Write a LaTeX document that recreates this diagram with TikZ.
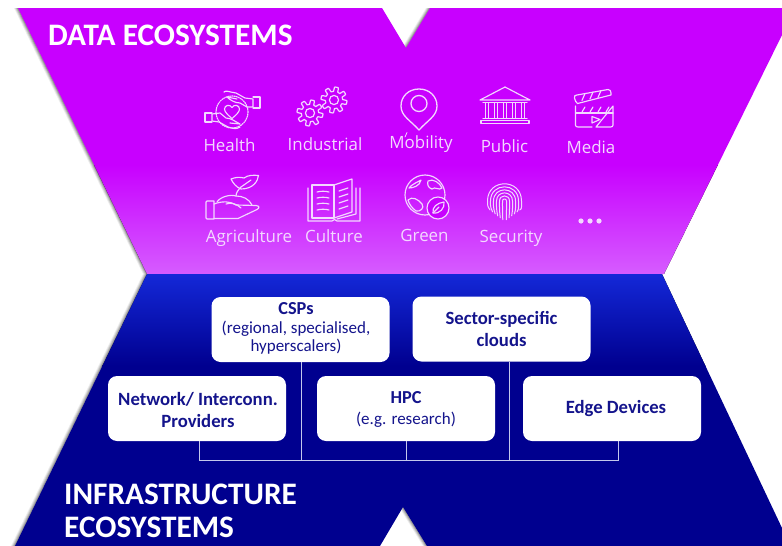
\documentclass[tikz,border=0pt]{standalone}
\usepackage{fontspec}
\setmainfont{Carlito}
\newfontfamily\iconfont{Open Sans}
\usetikzlibrary{calc}
\definecolor{topP}{HTML}{C800FF}
\definecolor{lowP}{HTML}{D65CFF}
\definecolor{topB}{HTML}{1428D8}
\definecolor{lowB}{HTML}{00008F}
\definecolor{navy}{HTML}{14148C}
\definecolor{icon}{HTML}{F3D8FF}
\definecolor{linkc}{HTML}{C4C8EC}
\tikzset{
 card/.style={fill=white,rounded corners=9pt,minimum width=178pt,minimum height=65pt,inner sep=0pt,align=center,text=navy,font=\fontsize{18.7pt}{22pt}\selectfont\bfseries},
 cardmix/.style={card,font=\fontsize{17pt}{17.5pt}\selectfont},
 link/.style={draw=linkc,line width=0.8pt},
 lbl/.style={text=icon,font=\iconfont\fontsize{16.9pt}{18pt}\selectfont,inner sep=0pt,anchor=base},
 ttl/.style={text=white,font=\fontsize{31.3pt}{33pt}\selectfont\bfseries,inner sep=0pt,align=left,anchor=west},
 ic/.style={draw=icon,line width=1.15pt,line join=round,line cap=round,fill=none},
}
\newcommand{\shapeedge}{(18,8) -- (382,8) -- (406,48) -- (430,8) -- (782,8) -- (782,35) -- (664,274) -- (662,275) -- (782,528) -- (782,546) -- (427,546) -- (403,507) -- (380,546) -- (15,546) -- (147,274) -- cycle}
\begin{document}
\begin{tikzpicture}[x=1pt,y=-1pt]
\useasboundingbox (0,0) rectangle (782,546);
\fill[white] (0,0) rectangle (782,546);
% shadows, cast to the left
\begin{scope}
\clip (0,0) rectangle (782,546);
\foreach \d/\o in {4/.07,3/.1,2/.14,1/.18}{
 \begin{scope}[xshift=-\d pt]
 \fill[black,opacity=\o] \shapeedge;
 \end{scope}
}
\end{scope}
% purple
\begin{scope}
\clip (18,8) -- (382,8) -- (406,48) -- (430,8) -- (782,8) -- (782,35) -- (664,274) -- (147,274) -- cycle;
\fill[topP] (0,0) rectangle (782,166);
\fill[top color=topP,bottom color=lowP] (0,165) rectangle (782,274);
\end{scope}
% blue
\begin{scope}
\clip (147,274) -- (662,274) -- (782,528) -- (782,546) -- (427,546) -- (403,507) -- (380,546) -- (15,546) -- cycle;
\fill[lowB] (0,365) rectangle (782,546);
\fill[top color=topB,bottom color=lowB] (0,274) rectangle (782,366);
\end{scope}
% titles
\node[ttl] (tdata) at (48,35) {DATA ECOSYSTEMS};
\node[ttl] (tinfra) at (64,510.5) {INFRASTRUCTURE\\ECOSYSTEMS};
% labels
\node[lbl] (l1) at (229.5,151) {Health};
\node[lbl] (l2) at (325,150) {Industrial};
\node[lbl] (l3) at (421,148.5) {Mobility};
\node[lbl] (l4) at (504.5,152) {Public};
\node[lbl] (l5) at (591,153.5) {Media};
\node[lbl] (l6) at (249,242) {Agriculture};
\node[lbl] (l7) at (334,242) {Culture};
\node[lbl] (l8) at (424.5,241) {Green};
\node[lbl] (l9) at (511,242) {Security};
\fill[icon] (581,221) circle (2.6) (590,221) circle (2.6) (599,221) circle (2.6);
% Mobility tick
\draw[ic,line width=0.8pt] (405,137) -- (407,132.5);
% Health
\draw[ic] (232,118.5) .. controls (228,115) and (224.5,112) .. (224.5,109) .. controls (224.5,105) and (230,104) .. (232,107.5) .. controls (234,104) and (239.5,105) .. (239.5,109) .. controls (239.5,112) and (236,115) .. (232,118.5) -- cycle;
\draw[ic,densely dotted] (232,112) circle (16);
\draw[ic] (224,92) .. controls (226,90) and (229,92) .. (236,93) -- (245,98) -- (253,99) -- (253,107) -- (247,107) -- (240,103) .. controls (235,103) and (230,100) .. (227,97) -- (237,99);
\draw[ic] (253,97) -- (260,97) -- (260,108) -- (253,108);
\draw[ic] (240,127) .. controls (236,130) and (232,128) .. (228,127) -- (219,122) -- (212,121) -- (212,114) -- (220,113) -- (226,118) .. controls (231,118) and (236,122) .. (240,124) -- (230,123);
\draw[ic] (212,113) -- (205,113) -- (205,122) -- (212,122);
% Industrial gears
\foreach \cx/\cy in {310/113,334/100}{
 \draw[ic,line width=1.2pt] plot[domain=0:360,samples=145,variable=\t] ({\cx+(10.8+2.2*min(1,max(-1,2.6*sin(8*\t))))*cos(\t)},{\cy+(10.8+2.2*min(1,max(-1,2.6*sin(8*\t))))*sin(\t)});
 \draw[ic,line width=1.2pt] (\cx,\cy) circle (4.6);
}
% Mobility pin
\draw[ic,line width=1.3pt] (419,130) .. controls (410,120) and (401,116) .. (401,106) .. controls (401,96) and (409,89) .. (419,89) .. controls (429,89) and (437,96) .. (437,106) .. controls (437,116) and (428,120) .. (419,130) -- cycle;
\draw[ic,line width=1.3pt] (419,103.5) circle (8);
% Public
\draw[ic] (482,99) -- (505,87) -- (528,99) -- (530,100) -- (480,100) -- cycle;
\draw[ic] (483,102.5) -- (527,102.5);
\foreach \x in {485,494,503,512,521}{\draw[ic,line width=0.9pt] (\x,103) -- (\x,118) (\x+3.5,103) -- (\x+3.5,118);}
\draw[ic] (483,118.5) -- (527,118.5);
\draw[ic] (481,120.5) -- (529,120.5) -- (529,123.5) -- (481,123.5) -- cycle;
% Media
\draw[ic] (575.5,106) -- (575.5,125) .. controls (575.5,126.5) and (576.5,127) .. (578,127) -- (592,127) (596,127) -- (610.5,127) .. controls (612,127) and (613,126.5) .. (613,125) -- (613,106) -- cycle;
\draw[ic] (575.5,113) -- (613,113);
\foreach \x in {582,590,598,606}{\draw[ic] (\x,112) -- (\x+3,107);}
\draw[ic] (574.5,98) .. controls (574,96) and (575,95) .. (577,95) -- (608,89.5) .. controls (610,89.5) and (611,91) .. (611,93) -- (611,95) -- (577.5,103.5) .. controls (576,103) and (575,100) .. (574.5,98) -- cycle;
\foreach \x/\y in {582/93.5,590/92,598/90.5}{\draw[ic] (\x,\y+7) -- (\x+3,\y);}
\draw[ic] (592,116.5) -- (600,119.5) -- (592,123) -- cycle;
% Agriculture
\draw[ic] (207,201) -- (214,201) -- (214,219) -- (207,219) .. controls (206.3,219) and (206,218.5) .. (206,218) -- (206,202) .. controls (206,201.5) and (206.3,201) .. (207,201) -- cycle;
\draw[ic] (214,204) .. controls (222,201) and (230,201) .. (236,205) -- (256,205.5) .. controls (260,206) and (259.5,208) .. (257,209.5) -- (238,218.5) -- (214,218.5);
\draw[ic] (217,202) .. controls (220,197) and (230,194) .. (236,196) .. controls (243,196) and (249,199) .. (252,205);
\draw[ic] (226,204) .. controls (231,202) and (237,204) .. (241,208);
\draw[ic] (236,196) .. controls (236,193) and (238,190) .. (241,187);
\draw[ic] (241,189) .. controls (236,187) and (233,183) .. (231,179) .. controls (236,177) and (240,177) .. (244,178) .. controls (248,175) and (253,175) .. (258.5,175.5) .. controls (258,181) and (253,189) .. (241,189) -- cycle;
\draw[ic] (241,187) -- (251,180);
% Culture
\draw[ic] (312,185) -- (334,185) -- (334,218) -- (312,218) -- cycle;
\draw[ic] (334,185) -- (352,179) -- (352,212) -- (334,218);
\draw[ic] (308,188) -- (308,221) -- (332,221) -- (334.5,219.5) -- (337,221) -- (360,221) -- (360,188);
\draw[ic] (356,188) -- (356,214) -- (337,219);
\foreach \y in {192,198,204,210}{\draw[ic] (317,\y) .. controls (321,\y-1) and (325,\y-1) .. (329,\y);}
\foreach \y in {191,197,203,209}{\draw[ic] (339,\y) -- (348,\y-3);}
% Green
\draw[ic] (425,195) circle (20);
\draw[ic] (409,188) .. controls (412,184) and (418,182) .. (421,180) .. controls (420,186) and (413,188) .. (409,188) -- cycle;
\draw[ic] (428,181) .. controls (433,178) and (440,183) .. (442,188) .. controls (439,191) and (435,186) .. (432,189) .. controls (428,188) and (427,184) .. (428,181) -- cycle;
\draw[ic] (408,200) .. controls (412,196) and (418,199) .. (422,204) .. controls (425,208) and (420,212) .. (416,211) .. controls (412,208) and (409,204) .. (408,200) -- cycle;
\draw[ic,fill=topP] (438,208) circle (11);
\draw[ic] (433,213) .. controls (432,207) and (437,203) .. (444,202) .. controls (445,208) and (440,214) .. (433,213) -- cycle;
\draw[ic] (433,213) -- (439,207);
% Security fingerprint
\begin{scope}[shift={(504.5,201)}]
\foreach \r in {2,5,8,11,14,17}{
 \draw[ic,line width=1pt] ({-\r*0.85},{20-0.65*\r}) .. controls ({-\r*1.05},{10-0.3*\r}) and ({-\r},{5-0.2*\r}) .. ({-\r},0) .. controls ({-\r},{-1.35*\r}) and (\r,{-1.35*\r}) .. (\r,0) .. controls (\r,4) and ({\r*1.05},8) .. ({\r*0.9},{20-0.65*\r});
}
\end{scope}
% cards
\node[cardmix] (csp) at (300.5,329.5) {\begin{tabular}{@{}c@{}}\bfseries\fontsize{18.3pt}{17.5pt}\selectfont CSPs\\[1.5pt](regional, specialised,\\hyperscalers)\end{tabular}\kern9pt};
\node[card] (sector) at (501.5,329) {Sector-specific\\clouds};
\node[card] (net) at (197,408.5) {\begin{tabular}{@{}c@{}}\rule{0pt}{23.4pt}Network/ Interconn.\\Providers\end{tabular}\kern-2pt};
\node[cardmix] (hpc) at (406,408.5) {\begin{tabular}{@{}c@{}}\rule{0pt}{16.5pt}\bfseries\fontsize{18.3pt}{22pt}\selectfont HPC\\[3pt](e.g. research)\end{tabular}};
\node[card] (edge) at (612,408.5) {\kern8pt Edge Devices};
% connectors
\coordinate (bus) at (0,460.7);
\draw[link] ([xshift=2pt]net.south) |- ([xshift=6.5pt]edge.south |- bus) -- ([xshift=6.5pt]edge.south);
\draw[link] ([xshift=1pt]csp.south) -- ([xshift=1pt]csp.south |- bus);
\draw[link] (hpc.south) -- (hpc.south |- bus);
\draw[link] ([xshift=7.5pt]sector.south) -- ([xshift=7.5pt]sector.south |- bus);
\end{tikzpicture}
\end{document}
